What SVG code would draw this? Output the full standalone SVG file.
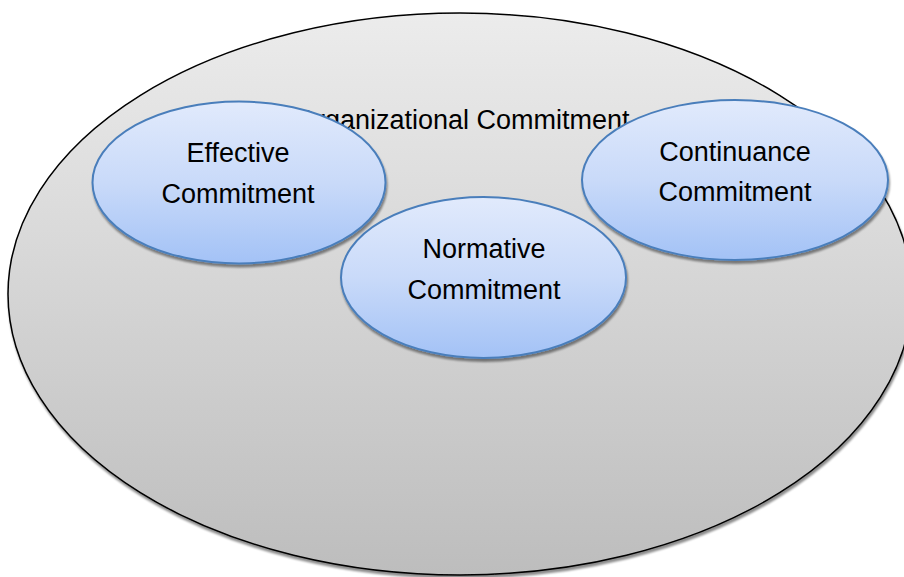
<svg xmlns="http://www.w3.org/2000/svg" width="904" height="577" viewBox="0 0 904 577">
<defs>
<linearGradient id="gBig" x1="0" y1="0" x2="0" y2="1">
<stop offset="0" stop-color="#ececec"/>
<stop offset="1" stop-color="#bdbdbd"/>
</linearGradient>
<linearGradient id="gBlue" x1="0" y1="0" x2="0" y2="1">
<stop offset="0" stop-color="#e1eafc"/>
<stop offset="0.5" stop-color="#c9daf9"/>
<stop offset="1" stop-color="#a3c2f6"/>
</linearGradient>
<filter id="sh" x="-10%" y="-10%" width="120%" height="130%">
<feGaussianBlur in="SourceAlpha" stdDeviation="1.2"/>
<feOffset dx="1" dy="3" result="b"/>
<feComponentTransfer><feFuncA type="linear" slope="0.45"/></feComponentTransfer>
<feMerge><feMergeNode/><feMergeNode in="SourceGraphic"/></feMerge>
</filter>
</defs>
<style>
.big{fill:url(#gBig);stroke:#000;stroke-width:1.5}
.sm{fill:url(#gBlue);stroke:#4a7ebb;stroke-width:2}
text{font-family:"Liberation Sans",Arial,sans-serif;font-size:27px;fill:#000;text-anchor:middle}
</style>
<rect width="904" height="577" fill="#fff"/>
<g id="organizational">
<ellipse class="big" cx="460" cy="294" rx="452" ry="281" filter="url(#sh)"/>
<text x="295" y="129" style="text-anchor:start">Organizational Commitment</text>
</g>
<g id="effective">
<ellipse class="sm" cx="239" cy="182.5" rx="146.5" ry="81" filter="url(#sh)"/>
<text x="238" y="162">Effective</text>
<text x="238" y="203">Commitment</text>
</g>
<g id="normative">
<ellipse class="sm" cx="483.5" cy="277.5" rx="142.5" ry="80.5" filter="url(#sh)"/>
<text x="484" y="258">Normative</text>
<text x="484" y="299">Commitment</text>
</g>
<g id="continuance">
<ellipse class="sm" cx="735" cy="180" rx="153" ry="80" filter="url(#sh)"/>
<text x="735" y="161">Continuance</text>
<text x="735" y="201">Commitment</text>
</g>
<g id="connectors"></g>
</svg>
